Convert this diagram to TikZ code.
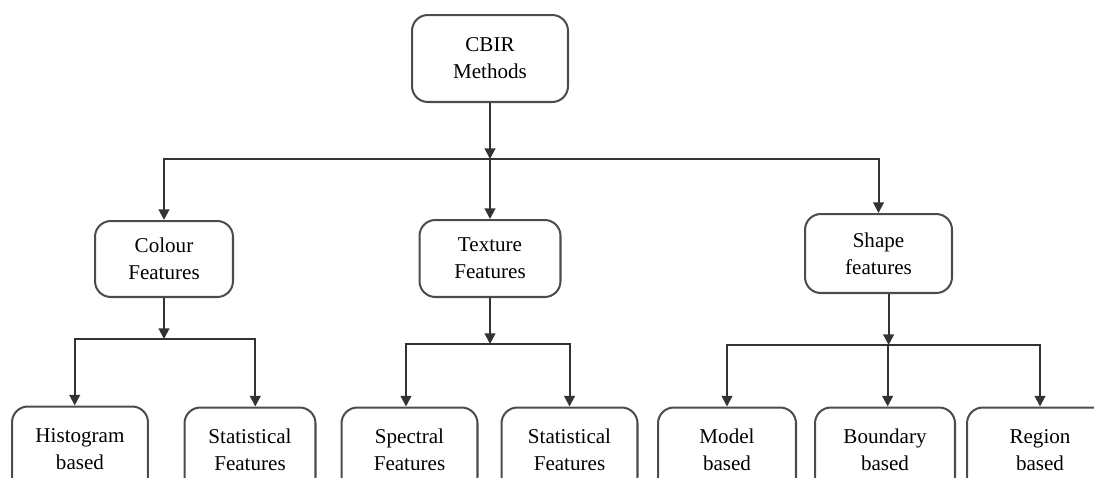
\documentclass[tikz,border=0pt]{standalone}
\usepackage{fontspec}
\setmainfont{Liberation Serif}
\usetikzlibrary{positioning, arrows.meta}

\begin{document}
\begin{tikzpicture}[x=0.02cm, y=-0.02cm]
  \tikzstyle{coord}=[inner sep=0pt, outer sep=0pt]
  \tikzstyle{box}=[draw=black!70, line width=1.15pt, rounded corners=9pt, align=center, inner sep=0pt,
    font=\fontsize{12}{15.3}\selectfont]
  \tikzstyle{leaf}=[box, minimum width=2.72cm, minimum height=1.7cm]
  \tikzstyle{link}=[draw=black!80, line width=1.15pt, -{Triangle[length=6pt, width=6pt]}]

  \useasboundingbox (0,0) rectangle (1094,477);
  \clip (0,0) rectangle (1094,477);

  % root
  \node (cbir) at (490,58.5) [box, minimum width=3.12cm, minimum height=1.74cm] {CBIR\\Methods};

  % feature groups
  \node (colour) at (164,259) [box, minimum width=2.76cm, minimum height=1.52cm] {Colour\\Features};
  \node (texture) at (490,258.5) [box, minimum width=2.82cm, minimum height=1.54cm] {Texture\\Features};
  \node (shape) at (878.5,253.5) [box, minimum width=2.94cm, minimum height=1.58cm] {Shape\\features};

  % methods per group
  \node (histogram) at (80,449) [leaf] {Histogram\\based};
  \node (colstat) at (250,450) [leaf, minimum width=2.62cm] {Statistical\\Features};
  \node (spectral) at (409.5,450) [leaf] {Spectral\\Features};
  \node (texstat) at (569.5,450) [leaf] {Statistical\\Features};
  \node (model) at (727,450) [leaf, minimum width=2.76cm] {Model\\based};
  \node (boundary) at (885,450) [leaf, minimum width=2.8cm] {Boundary\\based};
  \node (region) at (1040,450) [leaf, minimum width=2.92cm] {Region\\based};

  % bus points
  \coordinate (topbus) at (cbir.south |- 0,159);
  \coordinate (colbus) at (colour.south |- 0,339);
  \coordinate (texbus) at (texture.south |- 0,344);
  \coordinate (shapebus) at (shape.-76 |- 0,345);

  % connections
  \draw[link] (cbir.south) -- (topbus);
  \draw[link] (topbus) -| (colour.north);
  \draw[link] (topbus) -- (texture.north);
  \draw[link] (topbus) -| (shape.north);

  \draw[link] (colour.south) -- (colbus);
  \draw[link] (colbus) -| ([xshift=-3pt]histogram.north);
  \draw[link] (colbus) -| ([xshift=3pt]colstat.north);

  \draw[link] (texture.south) -- (texbus);
  \draw[link] (texbus) -| ([xshift=-2pt]spectral.north);
  \draw[link] (texbus) -| (texstat.north);

  \draw[link] (shape.-76) -- (shapebus);
  \draw[link] (shapebus) -| (model.north);
  \draw[link] (shapebus) -| ([xshift=1.5pt]boundary.north);
  \draw[link] (shapebus) -| (region.north);
\end{tikzpicture}
\end{document}
